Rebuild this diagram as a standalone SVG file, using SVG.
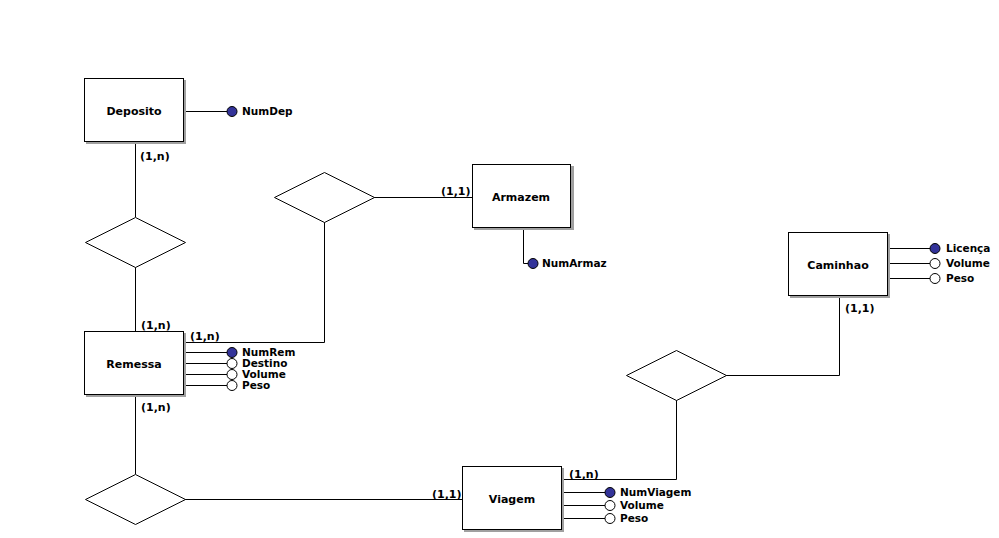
<svg xmlns="http://www.w3.org/2000/svg" width="999" height="538" viewBox="0 0 999 538">
<defs>
<style>
.ent rect.b{fill:#fff;stroke:#000;stroke-width:1}
.sh{fill:#a0a0a0}
.t{font-family:Tahoma,"DejaVu Sans","Liberation Sans",sans-serif;font-size:11px;font-weight:bold;fill:#000}
.lbl{font-family:Tahoma,"DejaVu Sans","Liberation Sans",sans-serif;font-size:11px;font-weight:bold;fill:#000}
.at{font-family:Tahoma,"DejaVu Sans","Liberation Sans",sans-serif;font-size:10.5px;font-weight:bold;fill:#000}
.k{fill:#333399;stroke:#000;stroke-width:1}
.o{fill:#fff;stroke:#000;stroke-width:1}
.ln{stroke:#000;stroke-width:1;fill:none}
.rel{fill:#fff;stroke:#000;stroke-width:1}
</style>
</defs>
<rect width="999" height="538" fill="#fff"/>
<g id="connectors" class="ln">
<path d="M135.5 142V217"/>
<path d="M135.5 267V331"/>
<path d="M184 342.5H324.5V222"/>
<path d="M374 197.5H472"/>
<path d="M135.5 395V474"/>
<path d="M185 499.5H462"/>
<path d="M562 479.5H676.5V400"/>
<path d="M726 375.5H839.5V296"/>
<path d="M186 111.5H228"/>
<path d="M523.5 228V263.5H529"/>
<path d="M186 352.5H228M186 363.5H228M186 374.5H228M186 385.5H228"/>
<path d="M563 492.5H606M563 505.5H606M563 518.5H606"/>
<path d="M888 248.5H931M888 263.5H931M888 278.5H931"/>
</g>
<g id="Deposito" class="ent">
<rect class="sh" x="86" y="80" width="100" height="64"/>
<rect class="b" x="84.5" y="78.5" width="99" height="63"/>
<text class="t" x="134" y="115" text-anchor="middle">Deposito</text>
<circle class="k" cx="232" cy="111.5" r="5"/>
<text class="at" x="242" y="115">NumDep</text>
</g>
<g id="Armazem" class="ent">
<rect class="sh" x="474" y="166" width="100" height="64"/>
<rect class="b" x="472.5" y="164.5" width="98" height="63"/>
<text class="t" x="521" y="201" text-anchor="middle">Armazem</text>
<circle class="k" cx="533" cy="263.5" r="5"/>
<text class="at" x="542" y="267">NumArmaz</text>
</g>
<g id="Remessa" class="ent">
<rect class="sh" x="86" y="333" width="100" height="64"/>
<rect class="b" x="84.5" y="331.5" width="99" height="63"/>
<text class="t" x="134" y="368" text-anchor="middle">Remessa</text>
<circle class="k" cx="232" cy="352.5" r="5"/>
<circle class="o" cx="232" cy="363.5" r="5"/>
<circle class="o" cx="232" cy="374.5" r="5"/>
<circle class="o" cx="232" cy="385.5" r="5"/>
<text class="at" x="242" y="356">NumRem</text>
<text class="at" x="242" y="367">Destino</text>
<text class="at" x="242" y="378">Volume</text>
<text class="at" x="242" y="389">Peso</text>
</g>
<g id="Viagem" class="ent">
<rect class="sh" x="464" y="468" width="100" height="64"/>
<rect class="b" x="462.5" y="466.5" width="99" height="63"/>
<text class="t" x="512" y="503" text-anchor="middle">Viagem</text>
<circle class="k" cx="610" cy="492.5" r="5"/>
<circle class="o" cx="610" cy="505.5" r="5"/>
<circle class="o" cx="610" cy="518.5" r="5"/>
<text class="at" x="620" y="496">NumViagem</text>
<text class="at" x="620" y="509">Volume</text>
<text class="at" x="620" y="522">Peso</text>
</g>
<g id="Caminhao" class="ent">
<rect class="sh" x="790" y="234" width="100" height="64"/>
<rect class="b" x="788.5" y="232.5" width="99" height="63"/>
<text class="t" x="838" y="269" text-anchor="middle">Caminhao</text>
<circle class="k" cx="935" cy="248.5" r="5"/>
<circle class="o" cx="935" cy="263.5" r="5"/>
<circle class="o" cx="935" cy="278.5" r="5"/>
<text class="at" x="946" y="252">Licença</text>
<text class="at" x="946" y="267">Volume</text>
<text class="at" x="946" y="282">Peso</text>
</g>
<g id="rel1"><polygon class="rel" points="135.5,217.5 185.5,242.5 135.5,267.5 85.5,242.5"/></g>
<g id="rel2"><polygon class="rel" points="324.5,172.5 374.5,197.5 324.5,222.5 274.5,197.5"/></g>
<g id="rel3"><polygon class="rel" points="135.5,474.5 185.5,499.5 135.5,524.5 85.5,499.5"/></g>
<g id="rel4"><polygon class="rel" points="676.5,350.5 726.5,375.5 676.5,400.5 626.5,375.5"/></g>
<g id="labels">
<text class="lbl" x="140" y="160">(1,n)</text>
<text class="lbl" x="141" y="329">(1,n)</text>
<text class="lbl" x="190" y="340">(1,n)</text>
<text class="lbl" x="441" y="195">(1,1)</text>
<text class="lbl" x="141" y="411">(1,n)</text>
<text class="lbl" x="432" y="498">(1,1)</text>
<text class="lbl" x="569" y="478">(1,n)</text>
<text class="lbl" x="845" y="312">(1,1)</text>
</g>
</svg>
